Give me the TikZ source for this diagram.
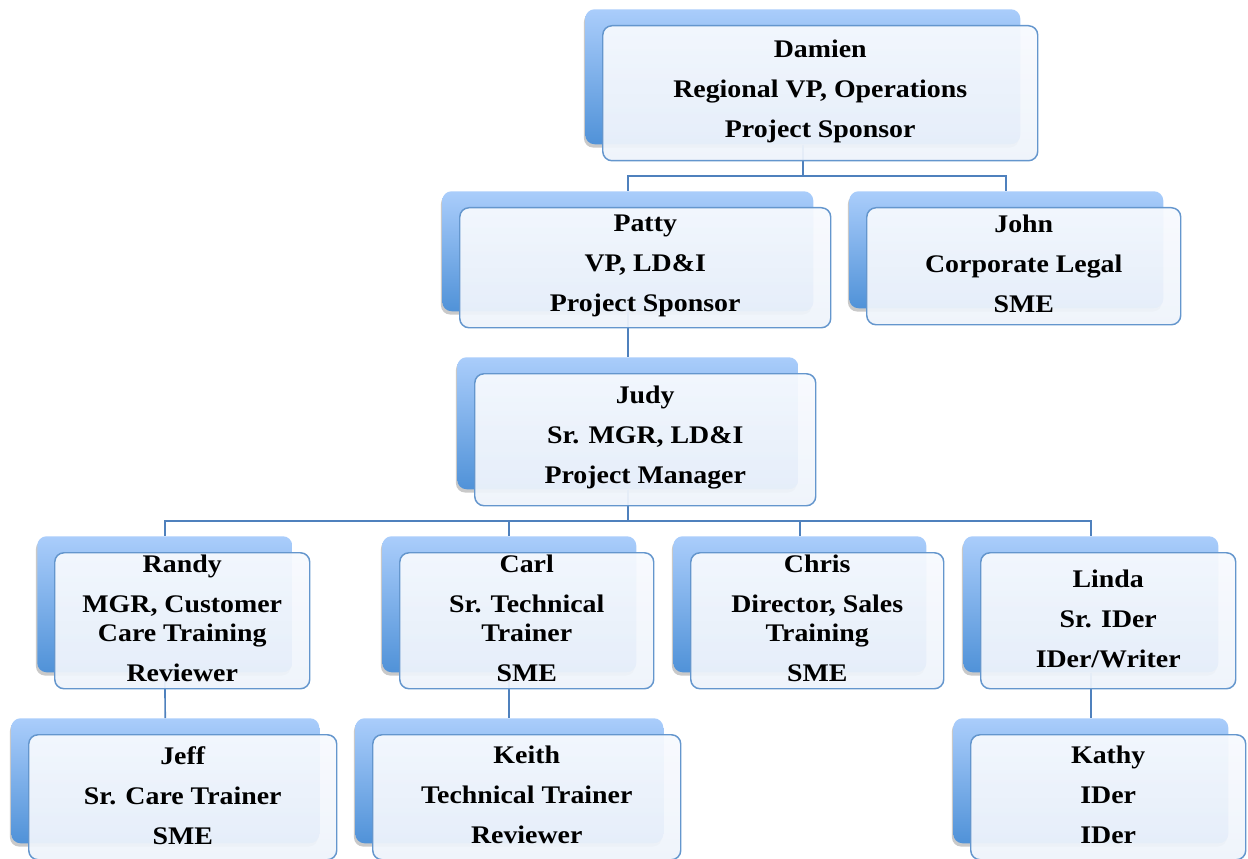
\documentclass[tikz,border=0pt]{standalone}
\usepackage{fontspec}
\setmainfont{Liberation Serif}[FakeStretch=1.1]
\usetikzlibrary{shadows}
\definecolor{backtop}{RGB}{170,205,251}
\definecolor{backbot}{RGB}{80,146,216}
\definecolor{fronttop}{RGB}{247,250,254}
\definecolor{frontbot}{RGB}{238,243,251}
\definecolor{frontline}{RGB}{100,150,205}
\definecolor{connline}{RGB}{79,129,189}
\pgfdeclarelayer{bg}\pgfdeclarelayer{fg}\pgfsetlayers{bg,main,fg}
\tikzset{
  backbox/.style={rectangle, rounded corners=7pt, top color=backtop, bottom color=backbot, draw=none, inner sep=0pt,
    drop shadow={shadow xshift=-1pt, shadow yshift=-2.5pt, opacity=0.3, fill=black!70}},
  frontbox/.style={rectangle, rounded corners=7pt, top color=fronttop, bottom color=frontbot, fill opacity=0.94,
    draw=frontline, draw opacity=1, line width=1.1pt, inner sep=0pt},
  txt/.style={align=center, inner sep=0pt, font=\fontsize{19}{21.75}\selectfont\bfseries, text=black, yshift=1.5pt},
  conn/.style={draw=connline, line width=1.2pt}
}
\newcommand{\gp}{\\[8.25pt]}
\newcommand{\obox}[6]{%
  \begin{pgfonlayer}{bg}
  \node[backbox, minimum width={#4*0.75pt}, minimum height={#5*0.75pt}, anchor=north west] (#1B) at (#2,#3) {};
  \end{pgfonlayer}
  \begin{pgfonlayer}{fg}
  \node[frontbox, minimum width={#4*0.75pt}, minimum height={#5*0.75pt}, anchor=north west] (#1) at ({#2+17},{#3+16}) {};
  \node[txt] (#1T) at (#1.center) {#6};
  \end{pgfonlayer}}
\begin{document}
\begin{tikzpicture}[x=0.75pt, y=-0.75pt]
\useasboundingbox (0,0) rectangle (1248,859);
\obox{damien}{585}{9}{435}{135}{Damien\gp Regional VP, Operations\gp Project Sponsor}
\obox{patty}{442}{191}{371}{120}{Patty\gp VP, LD\&I\gp Project Sponsor}
\obox{john}{849}{191}{314}{117}{John\gp Corporate Legal\gp SME}
\obox{judy}{457}{357}{341}{132}{Judy\gp Sr. MGR, LD\&I\gp Project Manager}
\obox{randy}{37}{536}{255}{136}{Randy\gp MGR, Customer\\ Care Training\gp Reviewer}
\obox{carl}{382}{536}{254}{136}{Carl\gp Sr. Technical\\ Trainer\gp SME}
\obox{chris}{673}{536}{253}{136}{Chris\gp Director, Sales\\ Training\gp SME}
\obox{linda}{963}{536}{255}{136}{Linda\gp Sr. IDer\gp IDer/Writer}
\obox{jeff}{11}{718}{308}{125}{Jeff\gp Sr. Care Trainer\gp SME}
\obox{keith}{355}{718}{308}{125}{Keith\gp Technical Trainer\gp Reviewer}
\obox{kathy}{953}{718}{275}{125}{Kathy\gp IDer\gp IDer}
\coordinate (bar1) at (0,176);
\coordinate (bar2) at (0,521);
\draw[conn] (damienB.south) -- (damienB.south |- bar1) -| (pattyB.north);
\draw[conn] (damienB.south |- bar1) -| (johnB.north);
\draw[conn] (pattyB.south) -- (judyB.north);
\draw[conn] (judyB.south) -- (judyB.south |- bar2) -| (randyB.north);
\draw[conn] (judyB.south |- bar2) -| (carlB.north);
\draw[conn] (judyB.south |- bar2) -| (chrisB.north);
\draw[conn] (judyB.south |- bar2) -| (lindaB.north);
\draw[conn] (randyB.south) -- (jeffB.north);
\draw[conn] (carlB.south) -- (keithB.north);
\draw[conn] (lindaB.south) -- (kathyB.north);
\end{tikzpicture}
\end{document}
